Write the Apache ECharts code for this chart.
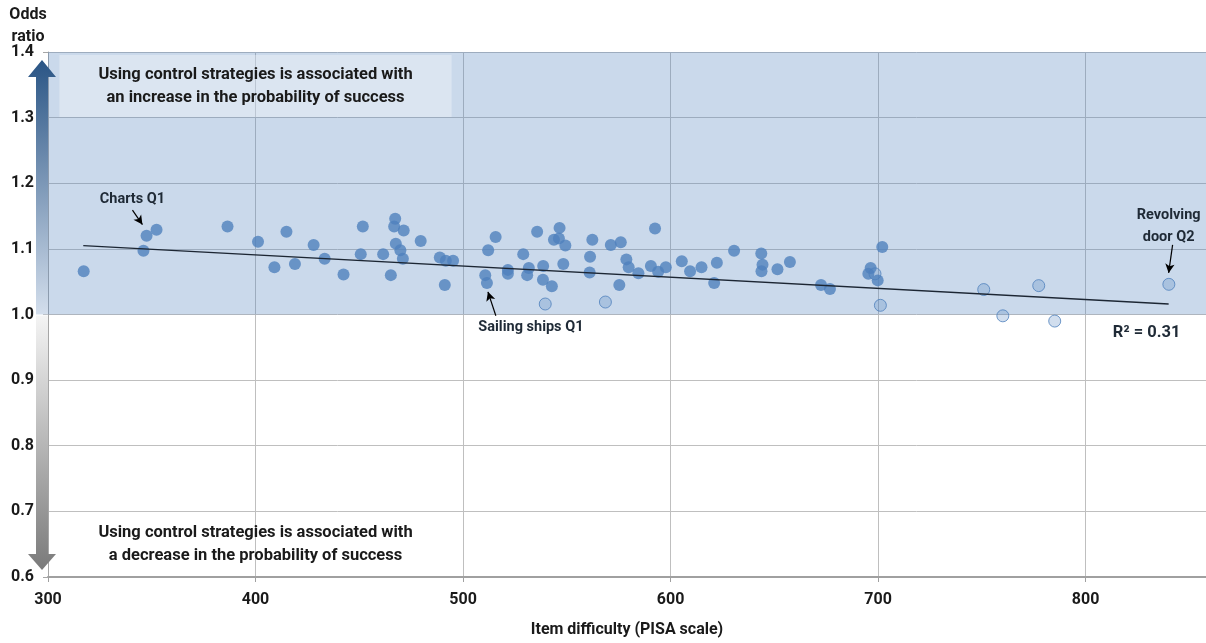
<!DOCTYPE html>
<html>
<head>
<meta charset="utf-8">
<script src="https://cdn.jsdelivr.net/npm/echarts@6/dist/echarts.min.js"></script>
<style>
  html, body { margin: 0; padding: 0; background: #ffffff; }
  #chart { width: 1206px; height: 643px; }
</style>
</head>
<body>
<div id="chart"></div>
<script>
// Axis ticks
const xTicks = [300, 400, 500, 600, 700, 800];
const yTicks = [0.6, 0.7, 0.8, 0.9, 1.0, 1.1, 1.2, 1.3, 1.4];

// Items where the odds ratio is significant (solid markers)
const itemDifficulty = [
  317.2, 346.0, 347.5, 352.3, 386.5, 401.2, 409.1, 414.9, 419.0, 428.0,
  433.3, 442.4, 450.7, 451.7, 461.5, 465.2, 466.8, 467.3, 467.6, 469.8,
  471.0, 471.4, 479.6, 488.8, 491.2, 491.7, 495.2, 510.7, 511.5, 512.1,
  515.7, 521.6, 521.6, 529.0, 530.9, 531.7, 535.7, 538.5, 538.6, 542.8,
  543.8, 546.2, 546.5, 548.3, 549.3, 561.0, 561.2, 562.3, 571.2, 575.3,
  576.0, 578.7, 579.8, 584.5, 590.5, 592.5, 594.0, 597.7, 605.4, 609.4,
  614.9, 621.0, 622.3, 630.6, 643.7, 643.8, 644.3, 651.5, 657.5, 672.5,
  676.8, 695.3, 696.4, 699.8, 702.0
];
const oddsRatio = [
  1.066, 1.097, 1.120, 1.129, 1.134, 1.111, 1.072, 1.126, 1.077, 1.106,
  1.085, 1.061, 1.092, 1.134, 1.092, 1.060, 1.134, 1.146, 1.108, 1.098,
  1.085, 1.128, 1.112, 1.087, 1.045, 1.082, 1.082, 1.060, 1.048, 1.098,
  1.118, 1.068, 1.062, 1.092, 1.060, 1.071, 1.126, 1.053, 1.074, 1.043,
  1.114, 1.116, 1.132, 1.077, 1.105, 1.064, 1.088, 1.114, 1.106, 1.045,
  1.110, 1.084, 1.072, 1.063, 1.074, 1.131, 1.065, 1.072, 1.081, 1.066,
  1.072, 1.048, 1.079, 1.097, 1.093, 1.066, 1.076, 1.069, 1.080, 1.045,
  1.039, 1.062, 1.071, 1.052, 1.103
];

// Items where the odds ratio is not significant (light markers)
const itemDifficultyNS = [539.6, 568.6, 698.5, 701.1, 750.9, 760.1, 777.4, 785.1, 840.1];
const oddsRatioNS      = [1.016, 1.019, 1.062, 1.014, 1.038, 0.998, 1.044, 0.990, 1.046];

// Linear trend line end points
const trendX = [317, 840];
const trendY = [1.105, 1.016];
const rSquared = '0.31';

const FONT = 'Roboto, "Noto Sans", sans-serif';
const TEXT = '#1a1a1a';
const BLUE = '#4f81bd';

const zip = (a, b) => a.map((v, i) => [v, b[i]]);

const chart = echarts.init(document.getElementById('chart'), null, { renderer: 'canvas' });

const option = {
  animation: false,
  backgroundColor: '#ffffff',
  grid: { left: 48, right: 0, top: 52, bottom: 66, containLabel: false, outerBoundsMode: 'none' },
  xAxis: {
    type: 'value', min: 300, max: 858, interval: 100,
    name: 'Item difficulty (PISA scale)', nameLocation: 'middle', nameGap: 45,
    nameTextStyle: { fontFamily: FONT, fontWeight: 'bold', fontSize: 16, color: TEXT },
    axisLine: { show: true, lineStyle: { color: '#a0a0a0', width: 2 } },
    axisTick: { show: true, length: 5, customValues: xTicks, lineStyle: { color: '#a0a0a0' } },
    axisLabel: { customValues: xTicks, margin: 15,
      fontFamily: FONT, fontWeight: 'bold', fontSize: 16, color: TEXT },
    splitLine: { show: true, lineStyle: { color: '#bfbfbf', width: 1 } }
  },
  yAxis: {
    type: 'value', min: 0.6, max: 1.4, interval: 0.1,
    axisLine: { show: true, lineStyle: { color: '#a6a6a6', width: 1 } },
    axisTick: { show: true, length: 5, lineStyle: { color: '#a6a6a6' } },
    axisLabel: { margin: 14, formatter: v => v.toFixed(1),
      fontFamily: FONT, fontWeight: 'bold', fontSize: 16, color: TEXT },
    splitLine: { show: true, lineStyle: { color: '#bfbfbf', width: 1 } }
  },
  series: [
    {
      // shaded band and the two explanatory captions
      type: 'scatter', data: [], z: 1, silent: true,
      markArea: {
        silent: true,
        data: [
          [{ coord: [300, 1.0], itemStyle: { color: 'rgba(79,129,189,0.30)' } }, { coord: [858, 1.4] }],
          [{ coord: [305.5, 1.3955], itemStyle: { color: 'rgba(255,255,255,0.32)' },
             label: { show: true, position: 'inside',
               formatter: 'Using control strategies is associated with\nan increase in the probability of success' } },
           { coord: [494.5, 1.301] }],
          [{ coord: [305.5, 0.68], itemStyle: { color: 'rgba(255,255,255,0)' },
             label: { show: true, position: 'inside',
               formatter: 'Using control strategies is associated with\na decrease in the probability of success' } },
           { coord: [494.5, 0.62] }]
        ],
        label: { fontFamily: FONT, fontWeight: 'bold', fontSize: 16.5, color: TEXT, lineHeight: 23, align: 'center' }
      }
    },
    {
      name: 'significant', type: 'scatter', z: 3,
      data: zip(itemDifficulty, oddsRatio),
      symbolSize: 12,
      itemStyle: { color: BLUE }
    },
    {
      name: 'not significant', type: 'scatter', z: 4,
      data: zip(itemDifficultyNS, oddsRatioNS),
      symbolSize: 12,
      itemStyle: { color: 'rgba(79,129,189,0.32)', borderColor: BLUE, borderWidth: 1 }
    },
    {
      name: 'trend', type: 'line', z: 5,
      data: zip(trendX, trendY),
      showSymbol: false, symbol: 'none',
      lineStyle: { color: '#1c2633', width: 1.3 }
    },
    {
      // callout arrows
      type: 'scatter', data: [], z: 6, silent: true,
      markLine: {
        silent: true,
        symbol: ['none', 'arrow'], symbolSize: [7, 9],
        lineStyle: { color: '#000000', width: 1.2, type: 'solid' },
        label: { show: false },
        data: [
          [{ coord: [340.7, 1.159] }, { coord: [345.5, 1.137] }],
          [{ coord: [515.8, 0.998] }, { coord: [512.0, 1.0345] }],
          [{ coord: [841.9, 1.106] }, { coord: [840.0, 1.0634] }]
        ]
      }
    }
  ]
};
chart.setOption(option);

// Callout texts placed in data space
const callouts = [
  { at: [340.7, 1.176], text: 'Charts Q1' },
  { at: [532.7, 0.980], text: 'Sailing ships Q1' },
  { at: [840.0, 1.135], text: 'Revolving\ndoor Q2' },
  { at: [829.4, 0.972], text: 'R\u00b2 = ' + rSquared, size: 16.5 }
];
const toPx = p => chart.convertToPixel({ gridIndex: 0 }, p);

const graphics = callouts.map(c => {
  const p = toPx(c.at);
  return {
    type: 'text', x: p[0], y: p[1], z: 10,
    style: { text: c.text, fontFamily: FONT, fontWeight: 'bold', fontSize: c.size || 14.5,
      fill: '#1f2a36', align: 'center', verticalAlign: 'middle', lineHeight: 22 }
  };
});

// Direction arrows beside the y axis
const pTop = toPx([300, 1.4]);
const pMid = toPx([300, 1.0]);
const pBot = toPx([300, 0.6]);
const cx = pTop[0] - 6, hw = 14, sw = 6;
graphics.push({
  type: 'polygon', z: 9,
  shape: { points: [
    [cx, pTop[1] + 8], [cx + hw, pTop[1] + 25], [cx + sw, pTop[1] + 25], [cx + sw, pMid[1]],
    [cx - sw, pMid[1]], [cx - sw, pTop[1] + 25], [cx - hw, pTop[1] + 25]
  ] },
  style: { fill: new echarts.graphic.LinearGradient(0, 0, 0, 1, [
    { offset: 0, color: '#2a5585' }, { offset: 1, color: '#d3deec' }
  ]) }
});
graphics.push({
  type: 'polygon', z: 9,
  shape: { points: [
    [cx - sw, pMid[1] + 1], [cx + sw, pMid[1] + 1], [cx + sw, pBot[1] - 23], [cx + hw, pBot[1] - 23],
    [cx, pBot[1] - 7], [cx - hw, pBot[1] - 23], [cx - sw, pBot[1] - 23]
  ] },
  style: { fill: new echarts.graphic.LinearGradient(0, 0, 0, 1, [
    { offset: 0, color: '#f4f4f4' }, { offset: 1, color: '#7a7a7a' }
  ]) }
});

// Axis title for odds ratio
graphics.push({
  type: 'text', x: 28, y: 26, z: 10,
  style: { text: 'Odds\nratio', fontFamily: FONT, fontWeight: 'bold', fontSize: 16,
    fill: TEXT, align: 'center', verticalAlign: 'middle', lineHeight: 22 }
});

chart.setOption({ graphic: graphics });
</script>
</body>
</html>
